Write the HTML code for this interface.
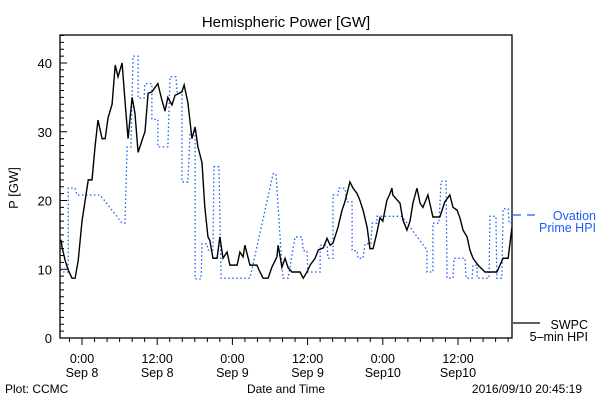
<!DOCTYPE html>
<html><head><meta charset="utf-8"><style>
html,body{margin:0;padding:0;background:#fff;}
svg{display:block;font-family:"Liberation Sans","DejaVu Sans",sans-serif;}
</style></head><body>
<svg id="chart" width="600" height="400" viewBox="0 0 600 400">
<text x="286" y="27" font-size="15" text-anchor="middle">Hemispheric Power [GW]</text>
<text x="0" y="0" font-size="13" text-anchor="middle" transform="translate(18,188) rotate(-90)">P [GW]</text>
<text x="286" y="393" font-size="12" text-anchor="middle">Date and Time</text>
<text x="5" y="393" font-size="12">Plot: CCMC</text>
<text x="582" y="393" font-size="12" text-anchor="end">2016/09/10 20:45:19</text>
<g id="axes"></g>
<g id="series"></g>
<g>
<line x1="513" y1="215" x2="541" y2="215" stroke="#1a5cff" stroke-width="1.3" stroke-dasharray="8,6"/>
<text x="596" y="220" font-size="12.5" fill="#1a5cff" text-anchor="end">Ovation</text>
<text x="596" y="232" font-size="12.5" fill="#1a5cff" text-anchor="end">Prime HPI</text>
<line x1="513" y1="323" x2="540" y2="323" stroke="#000" stroke-width="1.3"/>
<text x="588" y="329" font-size="12.5" text-anchor="end">SWPC</text>
<text x="588" y="341" font-size="12.5" text-anchor="end">5&#8211;min HPI</text>
</g>
</svg>
<script>
const yTicks=[0,10,20,30,40];
const xTickHours=[0,12,24,36,48,60];
const xTickLabels1=["0:00","12:00","0:00","12:00","0:00","12:00"];
const xTickLabels2=["Sep 8","Sep 8","Sep 9","Sep 9","Sep10","Sep10"];
const swpcHours=[-3.35,-3.2,-2.7,-2.2,-1.6,-1.1,-0.6,0,0.5,1.0,1.6,2.1,2.55,3.2,3.7,4.15,4.8,5.3,5.75,6.4,6.85,7.35,8.0,8.45,8.95,9.6,10.05,10.55,11.15,12.1,12.75,13.25,13.7,14.35,14.85,15.95,16.3,16.9,17.55,18.05,18.5,19.15,19.6,20.1,20.4,20.9,21.55,22.0,22.5,23.15,23.6,24.75,25.2,25.7,26.0,26.8,27.9,28.4,28.9,29.7,30.3,31.1,31.3,31.9,32.4,32.9,33.5,34.8,35.3,35.9,36.4,37.2,37.7,38.5,39.1,39.6,40.05,40.85,41.5,41.95,42.75,43.25,43.9,44.35,44.85,45.5,45.95,46.45,47.05,47.55,48.0,48.65,49.15,49.45,49.6,50.75,51.2,51.85,52.35,52.8,53.45,53.95,54.4,55.2,55.5,56.0,57.1,57.9,58.7,59.2,59.85,60.3,60.8,61.45,61.9,62.4,63.2,64.3,66.2,66.7,67.2,68.0,68.3,68.6];
const swpcPower=[14.3,13.3,11.3,9.9,8.7,8.7,11.3,17,20,23,23,28,31.7,29,29,32,34,39.7,38,40,34.6,29,35,32.7,27,28.8,30,35.6,35.8,37,34.6,33,35,33.9,35.3,35.8,36.8,34.2,29,30.7,27.8,25.5,19,14.7,14.2,11.6,11.6,14.7,11.6,12.5,10.6,10.6,12.5,11.8,13.5,10.6,10.6,9.6,8.7,8.7,10.3,11.8,13.5,10.3,11.6,10.2,9.6,9.6,8.7,9.6,10.6,11.6,12.8,13.1,14.5,13.5,13.8,16.1,18.6,19.8,22.7,21.8,21,20,18.6,16.1,13,13,15.3,17.5,17,20,21,21.8,20.8,19.6,17.2,15.7,17,19.6,21.8,19.6,19,20.8,19.6,17.6,17.6,19.8,20.8,19,18.6,17.5,15.7,14.7,12.8,11.6,10.6,9.6,9.6,10.6,11.6,11.6,13.8,16.1];
const ovationHours=[-3.35,-3.2,-2.2,-2.2,-1.1,-0.8,2.9,6.4,6.85,7.2,7.8,8.15,8.95,8.95,9.9,10.05,11.15,11.15,12.1,12.1,13.7,14.05,15.0,15.15,15.95,15.95,16.9,17.25,18.05,18.05,19.0,19.15,19.95,20.1,20.9,21.05,21.85,22.2,26.8,30.5,30.95,31.9,32.1,32.9,34.0,35.1,35.3,35.9,36.05,38.0,38.0,39.1,39.25,40.05,40.05,40.85,41.0,41.95,42.3,43.1,43.1,43.9,44.05,44.85,45.15,46.1,46.3,47.05,47.05,51.05,55.05,55.05,56.0,56.0,56.95,57.3,58.1,58.25,59.2,59.35,61.1,61.3,62.25,62.4,63.05,63.05,64.95,65.1,66.05,66.2,67.0,67.2,68.0,68.15,68.6];
const ovationPower=[10,9.6,9.6,21.8,21.8,20.8,20.8,16.7,16.7,27.8,27.8,41,41,34.9,34.9,37,37,31.8,31.8,27.8,27.8,38,38,35.8,35.8,22.7,22.7,30,30,8.6,8.6,13.7,13.7,12.8,12.8,24.9,24.9,8.7,8.7,23.9,23.9,10.6,8.7,8.7,14.7,14.7,12.7,12.7,9.6,9.6,13.5,13.5,11.6,11.6,20.8,20.8,21.8,21.8,19.8,19.8,12.7,12.7,11.6,11.6,13.7,13.7,16.7,16.7,17.7,17.7,12.8,9.6,9.6,16.7,16.7,22.8,22.8,8.7,8.7,11.6,11.6,8.7,8.7,10.6,10.6,8.7,8.7,17.7,17.7,8.7,8.7,18.8,18.8,16.7,16.7];

const NS="http://www.w3.org/2000/svg";
const L=60,R=512,T=35,B=338;
const X=h=>82+h*75.2/12;
const Y=v=>338-v*6.875;
function mk(tag,attrs,parent){const e=document.createElementNS(NS,tag);for(const k in attrs)e.setAttribute(k,attrs[k]);parent.appendChild(e);return e;}
const ax=document.getElementById('axes');
const frame=mk('rect',{x:L,y:T,width:R-L,height:B-T,fill:'none',stroke:'#000','stroke-width':1.3},ax);


for(let v=0;v<=44;v++){
  const big=v%10===0;
  const t=mk('line',{x1:L,x2:L+(big?7:4),y1:Y(v),y2:Y(v),stroke:'#000','stroke-width':1},ax);
  
  
}
yTicks.forEach(v=>{
  const t=mk('text',{x:L-8,y:Y(v)+5,'font-size':13,'text-anchor':'end'},ax);
  t.textContent=v;
  
  
});
for(let h=-2;h<=68;h+=2){
  const big=h%12===0;
  const t=mk('line',{x1:X(h),x2:X(h),y1:B,y2:B+(big?7:4),stroke:'#000','stroke-width':1},ax);
  
  
}
xTickHours.forEach((h,i)=>{
  const a=mk('text',{x:X(h),y:363,'font-size':12.5,'text-anchor':'middle'},ax);
  a.textContent=xTickLabels1[i];
  
  
  const b=mk('text',{x:X(h),y:377,'font-size':12.5,'text-anchor':'middle'},ax);
  b.textContent=xTickLabels2[i];
  
  
});
const sg=document.getElementById('series');
const ov=mk('polyline',{points:ovationHours.map((h,i)=>X(h)+','+Y(ovationPower[i])).join(' '),fill:'none',stroke:'#1a5cff','stroke-width':1.3,'stroke-dasharray':'1.5,2.5'},sg);


const sw=mk('polyline',{points:swpcHours.map((h,i)=>X(h)+','+Y(swpcPower[i])).join(' '),fill:'none',stroke:'#000','stroke-width':1.4},sg);


</script>
</body></html>
